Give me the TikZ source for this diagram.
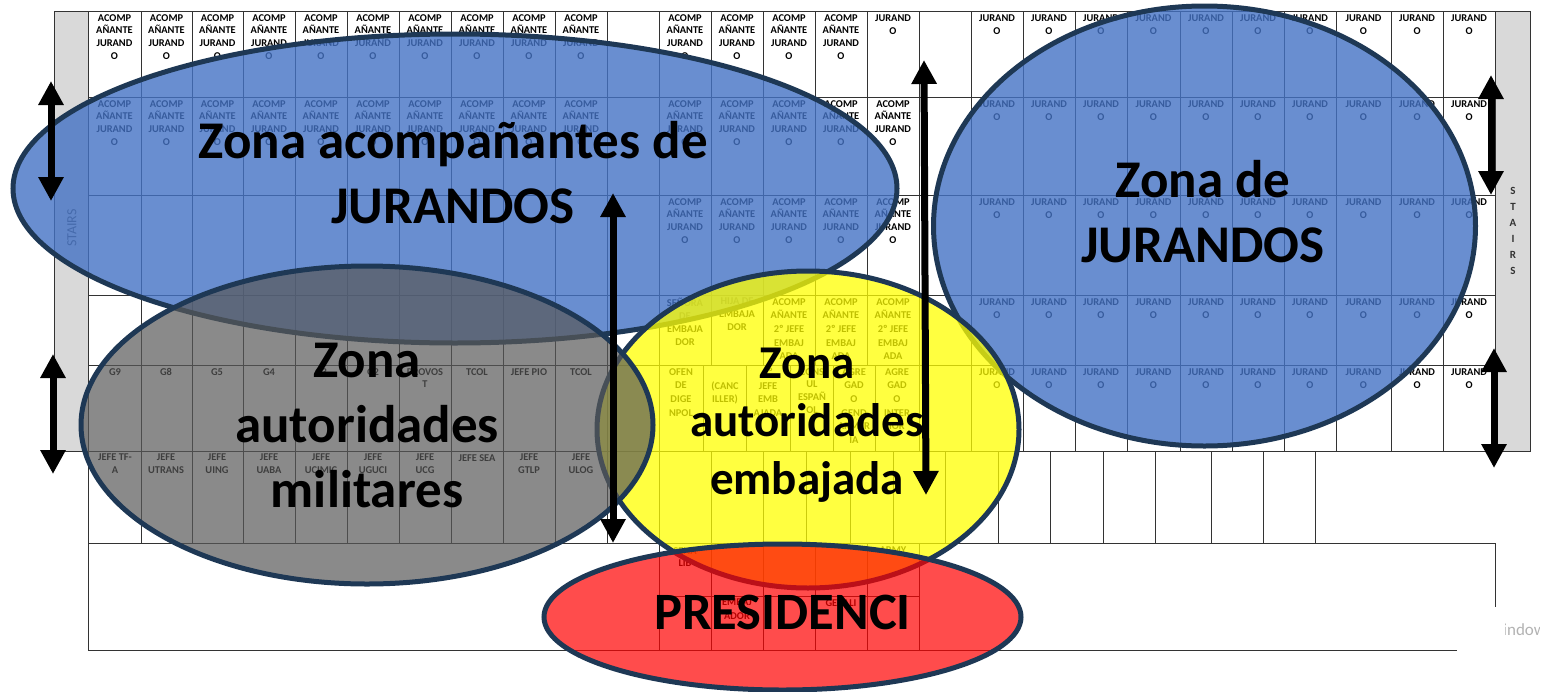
\documentclass[tikz,border=0pt]{standalone}
\usepackage{fontspec}
\setmainfont{Carlito}
\usetikzlibrary{arrows.meta, shapes.geometric}

\definecolor{zoneline}{HTML}{1E3855}
\definecolor{zoneblue}{HTML}{4472C4}
\definecolor{zonegrey}{HTML}{595959}
\definecolor{zoneyellow}{HTML}{FFFF00}
\definecolor{zonered}{HTML}{FF0000}
\definecolor{stairgrey}{HTML}{D9D9D9}

\newcommand{\leftcols}{88/141,141/192,192/243,243/295,295/347,347/399,399/451,451/503,503/555,555/607}
\newcommand{\midcols}{659/711,711/763,763/815,815/867,867/919}
\newcommand{\rightcols}{971/1023,1023/1075,1075/1127,1127/1180,1180/1232,1232/1284,1284/1336,1336/1391,1391/1443,1443/1495}

\begin{document}
\begin{tikzpicture}[x=1pt, y=-1pt,
    gridline/.style = {line width=0.9pt, black!80},
    cell/.style = {anchor=north, align=center, inner sep=0pt, font=\bfseries\fontsize{10.4}{12.9}\selectfont},
    tallcell/.style = {cell, font=\bfseries\fontsize{10.4}{13.7}\selectfont},
    zone/.style = {ellipse, draw=zoneline, line width=5pt, inner sep=0pt},
    zonetext/.style = {align=center, inner sep=0pt, font=\bfseries\fontsize{53}{65}\selectfont},
    dblarrow/.style = {line width=7pt, {Triangle[width=24pt,length=24pt]}-{Triangle[width=24pt,length=24pt]}}]
  \useasboundingbox (0,0) rectangle (1553,691);

  % stairs
  \draw[gridline, fill=stairgrey] (54,11) rectangle (88,451);
  \draw[gridline, fill=stairgrey] (1495,11) rectangle (1530,451);
  \node[rotate=90, font=\fontsize{14}{15}\selectfont, black!70] (stairsl) at (72,228) {STAIRS};
  \node[align=center, font=\bfseries\fontsize{11}{16}\selectfont, black!80] (stairsr) at (1513,231) {S\\T\\A\\I\\R\\S};

  % rows
  \draw[gridline] (54,11) -- (1530,11);
  \foreach \y/\xe in {97/1495, 195/1495, 295/1495, 365/1495, 451/1530, 543/1495}
    \draw[gridline] (88,\y) -- (\xe,\y);
  \draw[gridline] (88,650) -- (1457,650);
  \draw[gridline] (88,451) -- (88,650);
  \draw[gridline] (1495,543) -- (1495,607);
  \draw[gridline] (659,596) -- (919,596);

  % columns
  \foreach \x in {141,192,243,295,347,399,451,503,555,607,659,919,971,1023,1075,1127,1180,1232,1284,1336,1391,1443}
    \draw[gridline] (\x,11) -- (\x,451);
  \foreach \x in {711,763,815,867}
    \draw[gridline] (\x,11) -- (\x,365);
  \foreach \x in {703,746,790,833,875}
    \draw[gridline] (\x,365) -- (\x,451);
  \foreach \x in {141,192,243,295,347,399,451,503,555,607,659,711,763,806,850,893,945,998,1050,1103,1155,1211,1263,1315}
    \draw[gridline] (\x,451) -- (\x,543);
  \foreach \x in {659,711,763,815,867,919}
    \draw[gridline] (\x,543) -- (\x,650);

  % seats
  \foreach \xa/\xb in \leftcols {
    \node[cell] (ua\xa) at ({(\xa+\xb)/2},14) {ACOMP\\AÑANTE\\JURAND\\O};
    \node[cell] (ub\xa) at ({(\xa+\xb)/2},100) {ACOMP\\AÑANTE\\JURAND\\O};
  }
  \foreach \xa/\xb in {659/711,711/763,763/815,815/867} 
    \node[cell] (ma\xa) at ({(\xa+\xb)/2},14) {ACOMP\\AÑANTE\\JURAND\\O};
  \node[cell] (ma867) at (893,14.5) {JURAND\\O};
  \foreach \xa/\xb in \midcols {
    \node[cell] (mb\xa) at ({(\xa+\xb)/2},100) {ACOMP\\AÑANTE\\JURAND\\O};
    \node[cell] (mc\xa) at ({(\xa+\xb)/2},198) {ACOMP\\AÑANTE\\JURAND\\O};
  }
  \foreach \xa/\xb in \rightcols \foreach \ry in {14.5,100.5,198.5,298.5,368.5}
    \node[cell] (r\ry\xa) at ({(\xa+\xb)/2},\ry) {JURAND\\O};

  \node[cell] (senora) at (685,298) {SEÑORA\\DE\\EMBAJA\\DOR};
  \node[cell] (hija) at (737,298) {HIJA DE\\EMBAJA\\DOR};
  \foreach \xc in {789,841,893}
    \node[tallcell] (acomp\xc) at (\xc,298) {ACOMP\\AÑANTE\\2º JEFE\\EMBAJ\\ADA};

  \foreach \xc/\txt in {115/G9,166/G8,217/G5,269/G4,321/G3,373/G2,425/{PROVOS\\T},477/TCOL,529/JEFE PIO,581/TCOL}
    \node[cell] (mil\xc) at (\xc,368) {\txt};
  \foreach \xc/\txt in {115/{JEFE TF-\\A},166/{JEFE\\UTRANS},217/{JEFE\\UING},269/{JEFE\\UABA},321/{JEFE\\UCIMIC},373/{JEFE\\UGUCI},425/{JEFE\\UCG},477/JEFE SEA,529/{JEFE\\GTLP},581/{JEFE\\ULOG}}
    \node[cell] (jefe\xc) at (\xc,454) {\txt};

  \node[tallcell] (ofen) at (681,368) {OFEN\\DE\\DIGE\\NPOL};
  \node[cell] (canc) at (725,382) {(CANC\\ILLER)};
  \node[tallcell] (jefe) at (768,368) {2º\\JEFE\\EMB\\AJADA};
  \node[cell] (cons) at (812,368) {CONS\\UL\\ESPAÑ\\OL};
  \node[tallcell] (agrep) at (854,368) {AGRE\\GAD\\O\\GEND\\ARMER\\IA};
  \node[tallcell] (agrei) at (897,368) {AGRE\\GAD\\O\\INTER\\IOR};

  \node[cell] (lib) at (685,547) {SENA\\LIB};
  \node[cell] (army) at (893,547) {ARMY};
  \node[tallcell] (emba) at (737,599) {EMBAJ\\ADOR};
  \node[cell] (gebali) at (841,599) {GEBALI};

  % zones
  \node[zone, fill=zoneblue, fill opacity=0.8, minimum width=884pt, minimum height=309pt] (acomp) at (455,188.5) {};
  \node[zone, fill=zoneblue, fill opacity=0.8, minimum width=542pt, minimum height=440pt] (jur) at (1204.5,226) {};
  \node[zone, fill=zoneyellow, fill opacity=0.75, minimum width=422pt, minimum height=317pt] (emb) at (808,429.5) {};
  \node[zone, fill=zonegrey, fill opacity=0.7, minimum width=572pt, minimum height=318pt] (mil) at (367,425) {};
  \node[zone, fill=zonered, fill opacity=0.7, minimum width=477pt, minimum height=146pt] (pres) at (782.5,617) {};

  % arrows
  \coordinate (top1) at (51,81);    \coordinate (bot1) at (51,201);
  \coordinate (top2) at (53,354);   \coordinate (bot2) at (53,474);
  \coordinate (top3) at (613,193);  \coordinate (bot3) at (613,543);
  \coordinate (top4) at (924,60);   \coordinate (bot4) at (926,495);
  \coordinate (top5) at (1491,75);  \coordinate (bot5) at (1491,195);
  \coordinate (top6) at (1494,348); \coordinate (bot6) at (1494,468);
  \foreach \n in {1,...,6}
    \draw[dblarrow] (top\n) -- (bot\n);

  % labels
  \node[zonetext] (acomptxt) at (453,173) {Zona acompañantes de\\JURANDOS};
  \node[zonetext] (jurtxt) at (1203,212) {Zona de\\JURANDOS};
  \node[zonetext] (miltxt) at (367,426) {Zona\\autoridades\\militares};
  \node[zonetext, font=\bfseries\fontsize{47}{58}\selectfont] (embtxt) at (807,425) {Zona\\autoridades\\embajada};
  \node[zonetext, font=\bfseries\fontsize{52.5}{60}\selectfont] (prestxt) at (782.5,612) {PRESIDENCI};

  % leftover on the right edge
  \begin{scope}
    \clip (1505,615) rectangle (1539,645);
    \node[anchor=west, inner sep=0pt, black!30, font=\fontsize{17}{17}\selectfont] (wm) at (1503,630) {indow};
  \end{scope}
\end{tikzpicture}
\end{document}
